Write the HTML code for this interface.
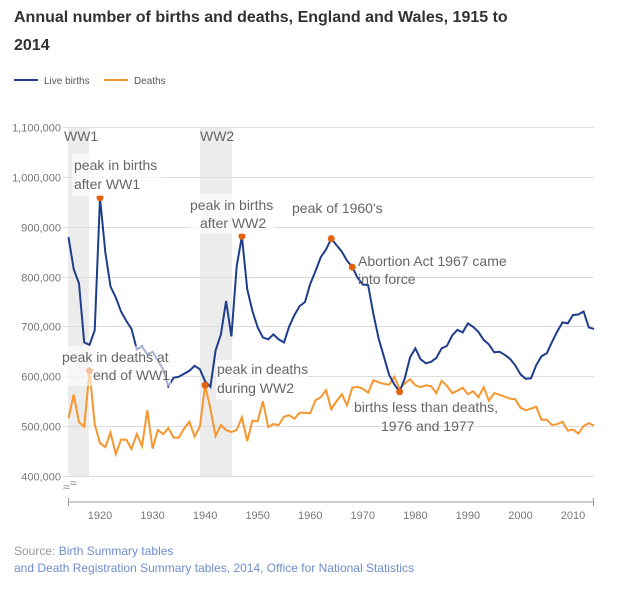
<!DOCTYPE html>
<html><head><meta charset="utf-8"><style>
body{margin:0;background:#fff;font-family:"Liberation Sans",sans-serif;}
#w{position:relative;width:619px;height:589px;overflow:hidden}
.t{position:absolute;left:14px;top:4px;font-size:16px;font-weight:bold;color:#323132;line-height:28px;width:600px}
.src{position:absolute;left:14px;top:543px;font-size:12px;color:#9a9a9a;line-height:17px}
.src span{color:#6f8ecb}
</style></head><body><div id="w">
<div class="t">Annual number of births and deaths, England and Wales, 1915 to<br>2014</div>
<svg width="619" height="589" style="position:absolute;left:0;top:0" font-family="Liberation Sans, sans-serif">
<line x1="14" y1="80" x2="38" y2="80" stroke="#1f3d8c" stroke-width="2"/>
<text x="44" y="84" font-size="10" fill="#555">Live births</text>
<line x1="104" y1="80" x2="128" y2="80" stroke="#f7962f" stroke-width="2"/>
<text x="134" y="84" font-size="10" fill="#555">Deaths</text>
<rect x="68" y="127" width="21" height="349" fill="#ececec"/>
<rect x="200" y="127" width="32" height="349" fill="#ececec"/>
<g id="grid" stroke="#dcdcdc" stroke-width="1"></g>
<g id="yl" font-size="11" fill="#777" text-anchor="end"></g>
<line x1="68" y1="502" x2="594" y2="502" stroke="#999"/>
<line x1="68.5" y1="498" x2="68.5" y2="506" stroke="#999"/>
<line x1="593.5" y1="498" x2="593.5" y2="506" stroke="#999"/>
<g id="xl" font-size="11" fill="#777" text-anchor="middle"></g>
<text x="63" y="491" font-size="12" fill="#888">≈</text>
<text x="70" y="487" font-size="12" fill="#888">≈</text>
<polyline id="dl" fill="none" stroke="#f7962f" stroke-width="2"/>
<polyline id="bl" fill="none" stroke="#1f3d8c" stroke-width="2"/>
<g id="dots" fill="#e3620e"></g>
<g font-size="14" fill="#666">
<rect x="72" y="154" width="90" height="42" fill="#fff" opacity="0.7"/>
<text x="74" y="170">peak in births</text><text x="74" y="189">after WW1</text>
<text x="64" y="141">WW1</text><text x="200" y="141">WW2</text>
<rect x="190" y="194" width="85" height="40" fill="#fff" opacity="0.7"/>
<text x="190" y="210">peak in births</text><text x="200" y="228">after WW2</text>
<text x="292" y="213">peak of 1960's</text>
<rect x="61" y="346" width="110" height="40" fill="#fff" opacity="0.6"/>
<text x="62" y="362">peak in deaths at</text><text x="93" y="380">end of WW1</text>
<rect x="216" y="360" width="92" height="40" fill="#fff" opacity="0.7"/>
<text x="217" y="374">peak in deaths</text><text x="217" y="393">during WW2</text>
<text x="358" y="266">Abortion Act 1967 came</text><text x="358" y="284">into force</text>
<text x="354" y="412">births less than deaths,</text><text x="381" y="431">1976 and 1977</text>
</g>
</svg>
<div class="src">Source: <span>Birth Summary tables</span><br><span>and Death Registration Summary tables, 2014, Office for National Statistics</span></div>
</div>
<script>
var B=[879,815,786,668,663,692,958,849,780,758,730,711,695,654,660,644,649,632,614,580,597,599,605,611,621,614,590,579,652,684,751,680,821,881,775,731,698,678,674,684,674,668,700,723,741,749,785,811,839,854,876,863,850,832,819,798,784,783,726,676,640,603,584,569,596,638,656,634,626,629,637,656,661,682,693,688,706,699,689,673,664,648,649,643,635,622,604,595,596,622,640,646,669,690,708,706,723,724,730,698,695];
var D=[516,563,508,499,611,504,466,458,487,444,473,473,454,484,460,532,455,492,484,496,477,477,495,509,479,499,582,535,480,502,492,488,492,518,470,511,510,550,498,504,502,519,522,515,527,527,526,552,558,572,534,550,564,542,577,579,575,567,592,588,585,583,599,575,586,594,582,578,582,580,566,591,581,566,571,577,564,570,558,578,551,566,563,559,555,554,537,532,535,539,513,513,502,504,509,491,493,485,500,506,501];
function X(y){return 100+(y-1920)*5.256}function Y(v){return 476-(v-400)*0.4986}
function pts(a){return a.map(function(v,i){return X(1914+i).toFixed(1)+","+Y(v).toFixed(1)}).join(" ")}
document.getElementById("bl").setAttribute("points",pts(B));
document.getElementById("dl").setAttribute("points",pts(D));
var ns="http://www.w3.org/2000/svg",g=document.getElementById("grid"),yl=document.getElementById("yl"),xl=document.getElementById("xl");
for(var v=400;v<=1100;v+=100){var y=Math.round(Y(v))+.5;var l=document.createElementNS(ns,"line");l.setAttribute("x1",63);l.setAttribute("x2",594);l.setAttribute("y1",y);l.setAttribute("y2",y);g.appendChild(l);
var t=document.createElementNS(ns,"text");t.setAttribute("x",61);t.setAttribute("y",y+4);t.textContent=(v*1000).toLocaleString("en-US");yl.appendChild(t);}
for(var yr=1920;yr<=2010;yr+=10){var t=document.createElementNS(ns,"text");t.setAttribute("x",X(yr));t.setAttribute("y",519);t.textContent=yr;xl.appendChild(t);}
var dots=[[1920,958],[1947,881],[1964,876],[1968,819],[1918,611],[1940,582],[1977,569]],dg=document.getElementById("dots");
dots.forEach(function(d){var c=document.createElementNS(ns,"circle");c.setAttribute("cx",X(d[0]));c.setAttribute("cy",Y(d[1]));c.setAttribute("r",3.5);dg.appendChild(c);});
</script>
</body></html>
